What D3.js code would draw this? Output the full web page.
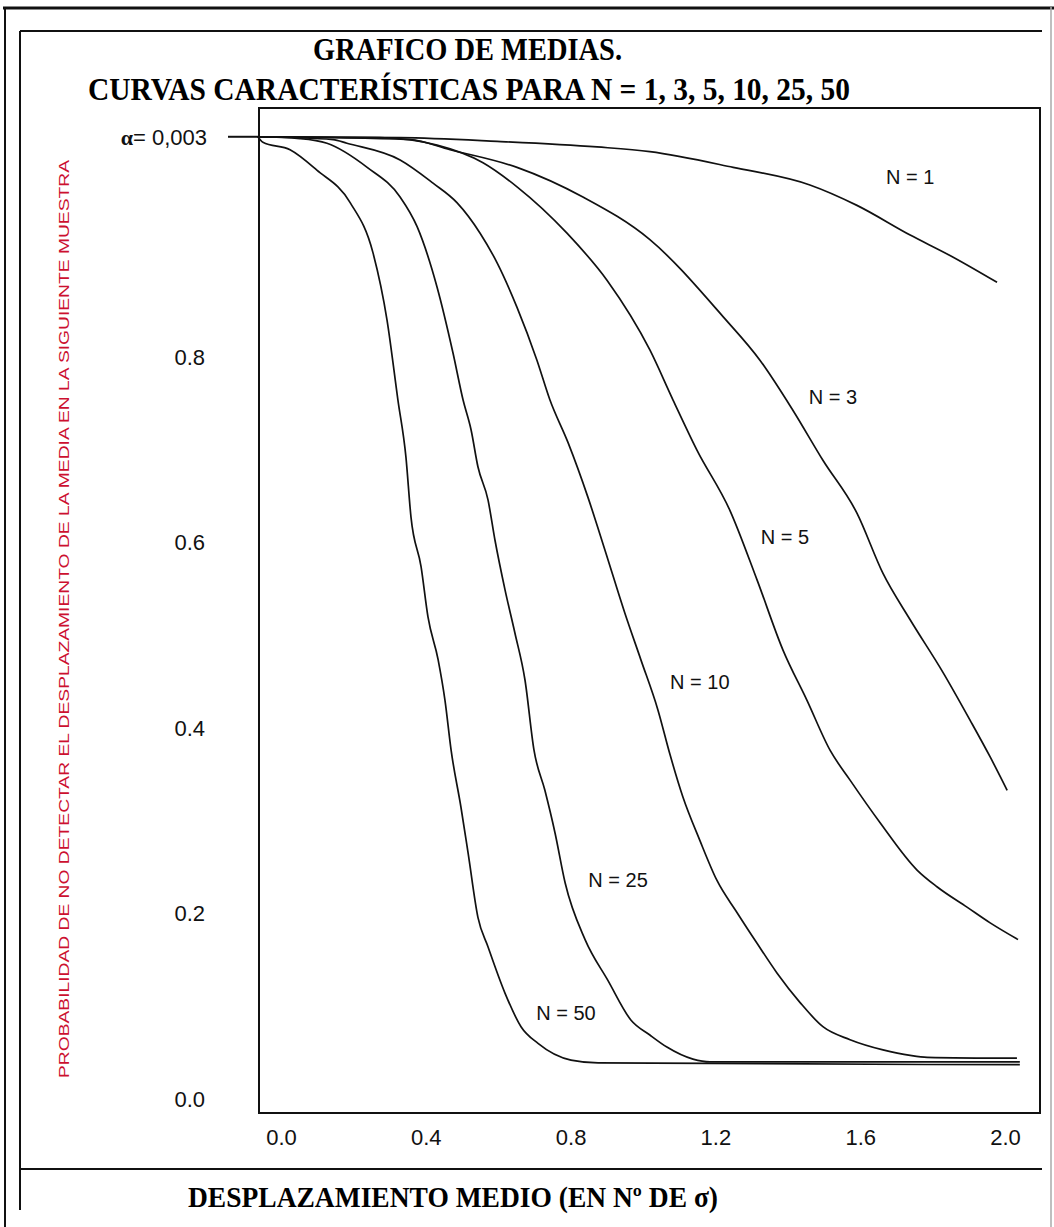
<!DOCTYPE html>
<html>
<head>
<meta charset="utf-8">
<script src="https://cdn.jsdelivr.net/npm/d3@7"></script>
<style>
  body { margin: 0; background: #fff; }
  svg { display: block; }
</style>
</head>
<body>
<div id="chart"></div>
<script>
// ---------- DATA ----------
const titleLines = ["GRAFICO DE MEDIAS.", "CURVAS CARACTERÍSTICAS PARA N = 1, 3, 5, 10, 25, 50"];
const xAxisTitle = "DESPLAZAMIENTO MEDIO (EN Nº DE σ)";
const yAxisTitle = "PROBABILIDAD DE NO DETECTAR EL DESPLAZAMIENTO DE LA MEDIA EN LA SIGUIENTE MUESTRA";
const alphaLabel = "= 0,003";
const xTickValues = [0, 0.4, 0.8, 1.2, 1.6, 2.0];
const yTickValues = [0, 0.2, 0.4, 0.6, 0.8];
const seriesNames = ["N = 1", "N = 3", "N = 5", "N = 10", "N = 25", "N = 50"];

// shift (in sigma) and probability of not detecting
const shiftN1 = [-0.064, 0.329, 0.597, 0.873, 1.019, 1.249, 1.461, 1.591, 1.738, 1.848, 1.978];
const probN1  = [1.038, 1.037, 1.033, 1.027, 1.022, 1.005, 0.986, 0.964, 0.932, 0.910, 0.881];

const shiftN3 = [-0.064, 0.356, 0.467, 0.652, 0.834, 1.019, 1.221, 1.323, 1.414, 1.497, 1.591, 1.663, 1.738, 1.829, 1.903, 1.959, 2.006];
const probN3  = [1.038, 1.035, 1.024, 1.005, 0.973, 0.927, 0.844, 0.797, 0.743, 0.689, 0.632, 0.567, 0.517, 0.460, 0.409, 0.369, 0.333];

const shiftN5 = [-0.064, 0.273, 0.431, 0.558, 0.652, 0.790, 0.901, 1.019, 1.083, 1.149, 1.240, 1.315, 1.387, 1.453, 1.517, 1.572, 1.655, 1.757, 1.812, 1.895, 1.959, 2.036];
const probN5  = [1.038, 1.037, 1.029, 1.010, 0.984, 0.934, 0.883, 0.808, 0.754, 0.700, 0.635, 0.560, 0.484, 0.430, 0.376, 0.344, 0.298, 0.247, 0.229, 0.207, 0.190, 0.172];

const shiftN10 = [-0.064, 0.144, 0.182, 0.329, 0.420, 0.486, 0.550, 0.597, 0.652, 0.707, 0.743, 0.793, 0.848, 0.895, 0.950, 0.994, 1.041, 1.075, 1.110, 1.157, 1.204, 1.260, 1.315, 1.370, 1.434, 1.497, 1.572, 1.663, 1.738, 1.785, 2.033];
const probN10  = [1.038, 1.035, 1.031, 1.013, 0.988, 0.967, 0.934, 0.902, 0.854, 0.797, 0.754, 0.708, 0.649, 0.592, 0.524, 0.474, 0.420, 0.371, 0.326, 0.279, 0.236, 0.201, 0.168, 0.136, 0.104, 0.078, 0.064, 0.053, 0.047, 0.045, 0.044];

const shiftN25 = [-0.064, 0.052, 0.127, 0.238, 0.329, 0.376, 0.431, 0.475, 0.503, 0.525, 0.544, 0.572, 0.591, 0.619, 0.646, 0.674, 0.699, 0.729, 0.757, 0.785, 0.840, 0.903, 0.967, 1.019, 1.066, 1.138, 1.185, 2.041];
const probN25  = [1.038, 1.036, 1.031, 1.005, 0.973, 0.941, 0.876, 0.805, 0.754, 0.722, 0.682, 0.646, 0.603, 0.549, 0.503, 0.452, 0.376, 0.333, 0.287, 0.233, 0.172, 0.128, 0.085, 0.069, 0.056, 0.043, 0.040, 0.040];

const shiftN50 = [-0.064, -0.050, 0.025, 0.099, 0.191, 0.254, 0.293, 0.323, 0.345, 0.359, 0.387, 0.406, 0.434, 0.453, 0.470, 0.497, 0.517, 0.544, 0.572, 0.619, 0.663, 0.710, 0.801, 0.876, 2.041];
const probN50  = [1.038, 1.032, 1.024, 1.002, 0.967, 0.913, 0.840, 0.754, 0.693, 0.628, 0.574, 0.520, 0.474, 0.430, 0.376, 0.315, 0.265, 0.196, 0.164, 0.114, 0.078, 0.060, 0.042, 0.039, 0.037];

// label anchor positions, in data units
const labelShift = [1.738, 1.525, 1.392, 1.157, 0.931, 0.787];
const labelProb  = [0.995, 0.757, 0.606, 0.450, 0.236, 0.093];

const alphaProb = 1.038;

// ---------- DRAWING ----------
const W = 1054, H = 1227;
const svg = d3.select("#chart").append("svg").attr("width", W).attr("height", H);
svg.append("rect").attr("width", W).attr("height", H).attr("fill", "#fff");

const x = d3.scaleLinear().domain([0, 2]).range([281, 1005]);
const y = d3.scaleLinear().domain([0, 1]).range([1099, 172]);

const box = { left: 259, top: 108, right: 1040, bottom: 1113 };

// page frame lines
const frame = svg.append("g").attr("stroke", "#111").attr("fill", "none");
frame.append("line").attr("x1", 3).attr("x2", W).attr("y1", 8).attr("y2", 8).attr("stroke-width", 3);
frame.append("line").attr("x1", 5).attr("x2", 5).attr("y1", 7).attr("y2", H).attr("stroke-width", 2);
frame.append("line").attr("x1", 1051).attr("x2", 1051).attr("y1", 7).attr("y2", H).attr("stroke-width", 1.5).attr("stroke", "#aaa");
frame.append("line").attr("x1", 20).attr("x2", 1042).attr("y1", 31).attr("y2", 31).attr("stroke-width", 2);
frame.append("line").attr("x1", 20).attr("x2", 20).attr("y1", 31).attr("y2", 1210).attr("stroke-width", 2);
frame.append("line").attr("x1", 20).attr("x2", 1042).attr("y1", 1169).attr("y2", 1169).attr("stroke-width", 2);

// titles
const serif = "'Liberation Serif', 'DejaVu Serif', serif";
svg.append("text").attr("x", 313).attr("y", 60).attr("font-family", serif).attr("font-weight", "bold")
  .attr("font-size", 31).attr("textLength", 309).attr("lengthAdjust", "spacingAndGlyphs").text(titleLines[0]);
svg.append("text").attr("x", 88).attr("y", 100).attr("font-family", serif).attr("font-weight", "bold")
  .attr("font-size", 31).attr("textLength", 762).attr("lengthAdjust", "spacingAndGlyphs").text(titleLines[1]);

// plot box
svg.append("rect").attr("x", box.left).attr("y", box.top)
  .attr("width", box.right - box.left).attr("height", box.bottom - box.top)
  .attr("fill", "none").attr("stroke", "#111").attr("stroke-width", 2);

const sans = "'Liberation Sans', Arial, sans-serif";

// y axis (labels only)
const yAxis = svg.append("g").attr("transform", "translate(205,0)")
  .call(d3.axisLeft(y).tickValues(yTickValues).tickSize(0).tickPadding(0).tickFormat(d3.format(".1f")));
yAxis.select(".domain").remove();
yAxis.selectAll("text").attr("font-family", sans).attr("font-size", 22).attr("fill", "#111");

// x axis (labels only)
const xAxis = svg.append("g").attr("transform", "translate(0,1129)")
  .call(d3.axisBottom(x).tickValues(xTickValues).tickSize(0).tickPadding(0).tickFormat(d3.format(".1f")));
xAxis.select(".domain").remove();
xAxis.selectAll("text").attr("font-family", sans).attr("font-size", 22).attr("fill", "#111");

// alpha marker
svg.append("line").attr("x1", box.left - 31).attr("x2", box.left).attr("y1", y(alphaProb)).attr("y2", y(alphaProb))
  .attr("stroke", "#111").attr("stroke-width", 2);
const aText = svg.append("text").attr("x", 207).attr("y", y(alphaProb) + 8).attr("text-anchor", "end")
  .attr("font-family", sans).attr("font-size", 22).attr("fill", "#111");
aText.append("tspan").attr("font-family", serif).attr("font-weight", "bold").text("α");
aText.append("tspan").text(alphaLabel);

// axis titles
svg.append("text").attr("x", 188).attr("y", 1207).attr("font-family", serif).attr("font-weight", "bold")
  .attr("font-size", 29).attr("textLength", 530).attr("lengthAdjust", "spacingAndGlyphs").text(xAxisTitle);

svg.append("text").attr("transform", "translate(69,1078) rotate(-90)")
  .attr("font-family", sans).attr("font-size", 15).attr("fill", "#cc1030")
  .attr("textLength", 918).attr("lengthAdjust", "spacingAndGlyphs").text(yAxisTitle);

// curves
const seriesShift = [shiftN1, shiftN3, shiftN5, shiftN10, shiftN25, shiftN50];
const seriesProb = [probN1, probN3, probN5, probN10, probN25, probN50];
const line = d3.line().x(d => x(d[0])).y(d => y(d[1])).curve(d3.curveMonotoneX);

seriesNames.forEach((name, i) => {
  const pts = seriesShift[i].map((s, j) => [s, seriesProb[i][j]]);
  svg.append("path").datum(pts).attr("d", line)
    .attr("fill", "none").attr("stroke", "#111").attr("stroke-width", 1.7);
  svg.append("text").attr("x", x(labelShift[i])).attr("y", y(labelProb[i]) + 7)
    .attr("text-anchor", "middle").attr("font-family", sans).attr("font-size", 20).attr("fill", "#111")
    .text(name);
});
</script>
</body>
</html>
